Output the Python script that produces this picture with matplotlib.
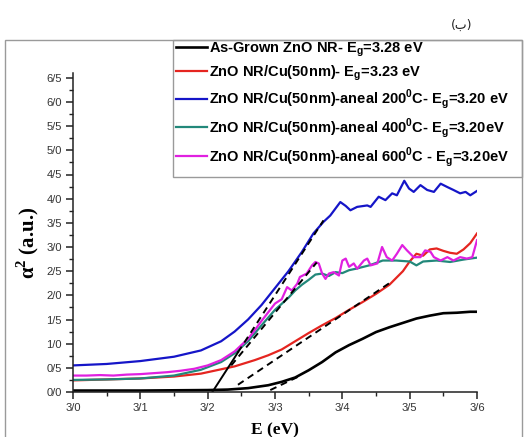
import matplotlib
matplotlib.use('Agg')
import matplotlib.pyplot as plt
from matplotlib.patches import Rectangle
from matplotlib.ticker import MultipleLocator

plt.rcParams['mathtext.fontset'] = 'custom'
plt.rcParams['mathtext.rm'] = 'Liberation Sans:bold'
plt.rcParams['mathtext.bf'] = 'Liberation Serif:bold'

# ---------------- data ----------------
E_black = [3.00, 3.05, 3.10, 3.15, 3.20, 3.23, 3.26, 3.29, 3.31, 3.33, 3.35, 3.37, 3.39,
           3.41, 3.43, 3.45, 3.47, 3.49, 3.51, 3.53, 3.55, 3.57, 3.59, 3.60]
a_black = [0.03, 0.03, 0.03, 0.035, 0.04, 0.05, 0.08, 0.14, 0.21, 0.30, 0.45, 0.62, 0.82,
           0.97, 1.10, 1.24, 1.34, 1.43, 1.52, 1.58, 1.63, 1.64, 1.66, 1.66]

E_red = [3.00, 3.05, 3.10, 3.15, 3.19, 3.24, 3.27, 3.29, 3.31, 3.33, 3.35, 3.37, 3.39, 3.41,
         3.43, 3.45, 3.47, 3.49, 3.50, 3.51, 3.52, 3.53, 3.54, 3.55, 3.56, 3.57, 3.58, 3.59, 3.60]
a_red = [0.24, 0.26, 0.28, 0.32, 0.38, 0.53, 0.66, 0.76, 0.88, 1.05, 1.22, 1.38, 1.53, 1.70,
         1.86, 2.03, 2.22, 2.50, 2.70, 2.86, 2.82, 2.95, 2.97, 2.92, 2.88, 2.86, 2.95, 3.08, 3.28]

E_blue = [3.00, 3.05, 3.10, 3.15, 3.19, 3.22, 3.24, 3.26, 3.28, 3.30, 3.32, 3.34, 3.357, 3.372,
          3.382, 3.397, 3.405, 3.412, 3.422, 3.437, 3.442, 3.454, 3.464, 3.474, 3.481, 3.492,
          3.499, 3.506, 3.516, 3.526, 3.536, 3.546, 3.556, 3.565, 3.575, 3.583, 3.590, 3.600]
a_blue = [0.55, 0.58, 0.64, 0.73, 0.86, 1.05, 1.25, 1.50, 1.80, 2.15, 2.50, 2.90, 3.28, 3.52,
          3.65, 3.93, 3.85, 3.76, 3.83, 3.86, 3.83, 4.04, 3.97, 4.11, 4.07, 4.37,
          4.21, 4.14, 4.28, 4.18, 4.14, 4.31, 4.24, 4.18, 4.11, 4.14, 4.07, 4.16]

E_teal = [3.00, 3.05, 3.10, 3.15, 3.19, 3.22, 3.24, 3.26, 3.28, 3.30, 3.32, 3.33, 3.34, 3.35,
          3.36, 3.37, 3.38, 3.39, 3.40, 3.41, 3.42, 3.44, 3.46, 3.48, 3.50, 3.51, 3.52, 3.54,
          3.56, 3.58, 3.60]
a_teal = [0.25, 0.26, 0.28, 0.34, 0.46, 0.62, 0.80, 1.05, 1.38, 1.70, 1.95, 2.10, 2.22, 2.32,
          2.43, 2.45, 2.40, 2.48, 2.46, 2.52, 2.55, 2.62, 2.72, 2.72, 2.70, 2.62, 2.70, 2.72,
          2.69, 2.74, 2.78]

E_mag = [3.00, 3.02, 3.04, 3.06, 3.08, 3.10, 3.12, 3.14, 3.16, 3.18, 3.20, 3.22, 3.24, 3.26,
         3.27, 3.28, 3.29, 3.30, 3.31, 3.318, 3.325, 3.333, 3.337, 3.347, 3.355, 3.360, 3.365,
         3.370, 3.375, 3.380, 3.387, 3.395, 3.400, 3.405, 3.410, 3.417, 3.422, 3.432, 3.437,
         3.442, 3.452, 3.459, 3.466, 3.474, 3.481, 3.489, 3.496, 3.506, 3.516, 3.523, 3.531,
         3.536, 3.546, 3.556, 3.565, 3.575, 3.585, 3.593, 3.600]
a_mag = [0.34, 0.34, 0.35, 0.34, 0.36, 0.37, 0.39, 0.41, 0.44, 0.48, 0.55, 0.66, 0.84, 1.10,
         1.28, 1.47, 1.65, 1.83, 1.92, 2.17, 2.10, 2.24, 2.38, 2.45, 2.62, 2.69, 2.66,
         2.45, 2.34, 2.45, 2.48, 2.41, 2.72, 2.76, 2.59, 2.66, 2.55, 2.72, 2.76,
         2.62, 2.66, 3.00, 2.79, 2.72, 2.86, 3.04, 2.93, 2.79, 2.79, 2.93, 2.90,
         2.79, 2.72, 2.79, 2.72, 2.79, 2.76, 2.79, 3.14]

# linear fits (Tauc extrapolation lines)
fit_blue_solid_E = [3.207, 3.245]
fit_blue_solid_a = [0.00, 0.82]
fit_blue_E = [3.245, 3.372]
fit_blue_a = [0.82, 3.55]
fit_tm_E = [3.235, 3.362]
fit_tm_a = [0.55, 2.68]
fit_red_E = [3.245, 3.475]
fit_red_a = [0.15, 2.30]
fit_black_E = [3.293, 3.335]
fit_black_a = [0.04, 0.32]

labels = [
    'As-Grown ZnO NR- E$_\\mathrm{g}$=3.28 eV',
    'ZnO NR/Cu(50nm)- E$_\\mathrm{g}$=3.23 eV',
    'ZnO NR/Cu(50nm)-aneal 200$^\\mathrm{0}$C- E$_\\mathrm{g}$=3.20 eV',
    'ZnO NR/Cu(50nm)-aneal 400$^\\mathrm{0}$C- E$_\\mathrm{g}$=3.20eV',
    'ZnO NR/Cu(50nm)-aneal 600$^\\mathrm{0}$C - E$_\\mathrm{g}$=3.20eV',
]
x_ticks = [3.0, 3.1, 3.2, 3.3, 3.4, 3.5, 3.6]
x_tick_labels = ['3/0', '3/1', '3/2', '3/3', '3/4', '3/5', '3/6']
y_ticks = [0.0, 0.5, 1.0, 1.5, 2.0, 2.5, 3.0, 3.5, 4.0, 4.5, 5.0, 5.5, 6.0, 6.5]
y_tick_labels = ['0/0', '0/5', '1/0', '1/5', '2/0', '2/5', '3/0', '3/5', '4/0', '4/5',
                 '5/0', '5/5', '6/0', '6/5']

# ---------------- figure ----------------
W, H = 524, 437
fig = plt.figure(figsize=(W / 100, H / 100), dpi=100)
ax = fig.add_axes([73 / W, 45 / H, 404 / W, 319 / H])

lw = 1.6
h1, = ax.plot(E_black, a_black, color='#000000', lw=1.9)
h2, = ax.plot(E_red, a_red, color='#e52520', lw=lw)
h3, = ax.plot(E_blue, a_blue, color='#1515c8', lw=lw)
h4, = ax.plot(E_teal, a_teal, color='#22887a', lw=lw)
h5, = ax.plot(E_mag, a_mag, color='#e020e0', lw=lw)

dash = (0, (3.5, 2.5))
ax.plot(fit_blue_solid_E, fit_blue_solid_a, color='black', lw=1.4)
ax.plot(fit_blue_E, fit_blue_a, color='black', lw=1.4, ls=dash)
ax.plot(fit_tm_E, fit_tm_a, color='black', lw=1.4, ls=dash)
ax.plot(fit_red_E, fit_red_a, color='black', lw=1.4, ls=dash)
ax.plot(fit_black_E, fit_black_a, color='black', lw=1.4, ls=dash)

ax.set_xlim(3.0, 3.6)
ax.set_ylim(0.0, 6.6)
ax.spines['top'].set_visible(False)
ax.spines['right'].set_visible(False)
for s in ('left', 'bottom'):
    ax.spines[s].set_linewidth(1.1)
    ax.spines[s].set_color('#222222')

ax.set_xticks(x_ticks)
ax.set_xticklabels(x_tick_labels)
ax.set_yticks(y_ticks)
ax.set_yticklabels(y_tick_labels)
ax.xaxis.set_minor_locator(MultipleLocator(0.05))
ax.yaxis.set_minor_locator(MultipleLocator(0.25))
ax.tick_params(which='major', direction='out', length=5, width=1.1, color='#222222',
               labelsize=8, labelcolor='#333333', pad=3)
ax.tick_params(which='minor', direction='out', length=3, width=1.0, color='#222222')
for t in ax.get_xticklabels() + ax.get_yticklabels():
    t.set_family('Liberation Sans')

ax.set_xlabel('E (eV)', fontsize=12.5, family='Liberation Serif', weight='bold')
ax.xaxis.set_label_coords(0.5, -0.095)
fig.text(28 / W, 1 - 243 / H, 'α$^{\\mathbf{2}}$ (a.u.)', rotation=90, ha='center',
         va='center', fontsize=15, family='Liberation Serif', weight='bold')

# outer frame and legend box
fig.add_artist(Rectangle((5 / W, -0.05), (522 - 5) / W, (H - 40) / H + 0.05,
                         transform=fig.transFigure, fill=False, ec='#9a9a9a', lw=1.0))
fig.add_artist(Rectangle((173 / W, (H - 177) / H), (522 - 173) / W, (177 - 40) / H,
                         transform=fig.transFigure, fill=False, ec='#9a9a9a', lw=1.0))

fig.legend([h1, h2, h3, h4, h5], labels, loc='upper left',
           bbox_to_anchor=(176 / W, 1 - 40 / H), frameon=False,
           prop={'family': 'Liberation Sans', 'weight': 'bold', 'size': 10.5},
           handlelength=2.1, handletextpad=0.15, labelspacing=0.32,
           borderpad=0.0, borderaxespad=0.0)

fig.text(462 / W, 1 - 25 / H, '(ب)', ha='center', va='center', fontsize=9,
         family='DejaVu Sans', color='#222222')

fig.savefig('out.png', dpi=100)
